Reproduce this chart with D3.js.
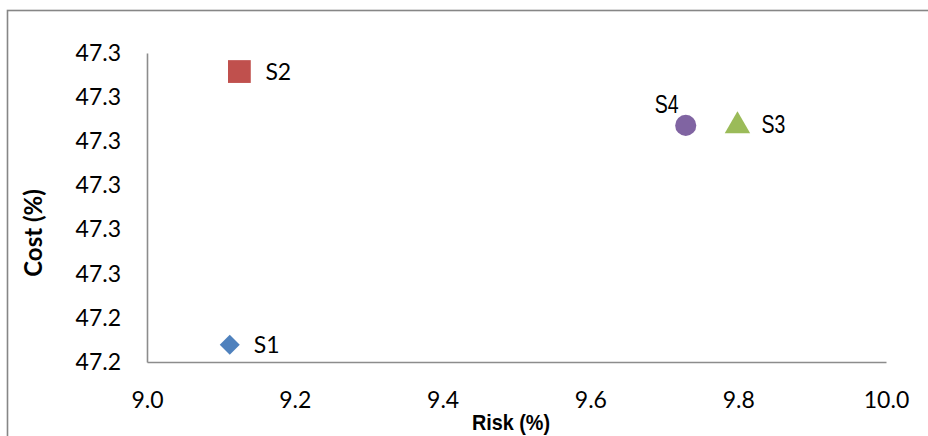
<!DOCTYPE html>
<html>
<head>
<meta charset="utf-8">
<script src="https://cdn.jsdelivr.net/npm/d3@7"></script>
<style>
  html, body { margin: 0; padding: 0; background: #fff; }
  svg { display: block; }
</style>
</head>
<body>
<svg id="chart" width="928" height="436"></svg>
<script>
// Scenario values: risk (%) vs cost (%)
const scenarios = ["S1", "S2", "S3", "S4"];
const riskValues = [9.112, 9.125, 9.799, 9.729];
const costValues = [47.2339, 47.2958, 47.2835, 47.2836];
const markerShapes = ["diamond", "square", "triangle", "circle"];
const markerColors = ["#4F81BD", "#C0504D", "#9BBB59", "#8064A2"];

const xTickValues = [9.0, 9.2, 9.4, 9.6, 9.8, 10.0];
const xTickLabels = ["9.0", "9.2", "9.4", "9.6", "9.8", "10.0"];
const yTickValues = [47.23, 47.24, 47.25, 47.26, 47.27, 47.28, 47.29, 47.30];
const yTickLabels = ["47.2", "47.2", "47.3", "47.3", "47.3", "47.3", "47.3", "47.3"];

const svg = d3.select("#chart");
const W = 928, H = 436;
const plot = { left: 147, right: 886, top: 53, bottom: 362 };

// Outer frame (extends past the right and bottom edges)
svg.append("rect")
  .attr("x", 7.5).attr("y", 10.5)
  .attr("width", W + 10).attr("height", H + 10)
  .attr("fill", "none").attr("stroke", "#868686").attr("stroke-width", 1.6);

const x = d3.scaleLinear().domain([9.0, 10.0]).range([plot.left, plot.right]);
const y = d3.scaleLinear().domain([47.23, 47.30]).range([plot.bottom, plot.top]);

const tickFont = "Lato, 'Open Sans', sans-serif";
const tickSize = 23;

// X axis
const xAxis = d3.axisBottom(x)
  .tickValues(xTickValues)
  .tickFormat((d, i) => xTickLabels[i])
  .tickSize(0).tickPadding(30);
const gx = svg.append("g").attr("transform", `translate(0,${plot.bottom})`).call(xAxis);
gx.select(".domain").attr("stroke", "#8c8c8c").attr("stroke-width", 1.6);
gx.selectAll("text").attr("font-family", tickFont).attr("font-size", tickSize).attr("fill", "#000");

// Y axis
const yAxis = d3.axisLeft(y)
  .tickValues(yTickValues)
  .tickFormat((d, i) => yTickLabels[i])
  .tickSize(0).tickPadding(26);
const gy = svg.append("g").attr("transform", `translate(${plot.left},0)`).call(yAxis);
gy.select(".domain").attr("stroke", "#8c8c8c").attr("stroke-width", 1.6);
gy.selectAll("text").attr("font-family", tickFont).attr("font-size", tickSize).attr("fill", "#000");

// Axis titles
svg.append("text")
  .attr("transform", "translate(511,430) scale(0.9,1)")
  .attr("text-anchor", "middle")
  .attr("font-family", "'Liberation Sans', Arial, sans-serif")
  .attr("font-weight", "bold").attr("font-size", 22)
  .text("Risk (%)");

svg.append("text")
  .attr("transform", "translate(42,233) rotate(-90)")
  .attr("text-anchor", "middle")
  .attr("font-family", tickFont)
  .attr("font-weight", "bold").attr("font-size", 24)
  .text("Cost (%)");

// Markers
const symbolTypes = {
  diamond: d3.symbolSquare,
  square: d3.symbolSquare,
  triangle: d3.symbolTriangle,
  circle: d3.symbolCircle
};
const symbolSizes = { diamond: 200, square: 520, triangle: 280, circle: 350 };
const symbolRotate = { diamond: 45, square: 0, triangle: 0, circle: 0 };

const pts = scenarios.map((s, i) => ({
  name: s, risk: riskValues[i], cost: costValues[i],
  shape: markerShapes[i], color: markerColors[i]
}));

svg.append("g").selectAll("path")
  .data(pts)
  .join("path")
  .attr("transform", d => `translate(${x(d.risk)},${y(d.cost)}) rotate(${symbolRotate[d.shape]})`)
  .attr("d", d => d3.symbol(symbolTypes[d.shape], symbolSizes[d.shape])())
  .attr("fill", d => d.color);

// Point labels
const narrow = "'Liberation Sans', Arial, sans-serif";
const labelStyle = {
  S1: { dx: 24, dy: 0, anchor: "start", font: tickFont, size: 23, sx: 1 },
  S2: { dx: 26, dy: 0, anchor: "start", font: tickFont, size: 23, sx: 1 },
  S3: { dx: 24, dy: -2, anchor: "start", font: narrow, size: 26, sx: 0.75 },
  S4: { dx: -19, dy: -22, anchor: "middle", font: narrow, size: 26, sx: 0.75 }
};

svg.append("g").selectAll("text")
  .data(pts)
  .join("text")
  .attr("transform", d => {
    const s = labelStyle[d.name];
    return `translate(${x(d.risk) + s.dx},${y(d.cost) + s.dy}) scale(${s.sx},1)`;
  })
  .attr("dy", "0.36em")
  .attr("text-anchor", d => labelStyle[d.name].anchor)
  .attr("font-family", d => labelStyle[d.name].font)
  .attr("font-size", d => labelStyle[d.name].size)
  .attr("fill", "#000")
  .text(d => d.name);
</script>
</body>
</html>
